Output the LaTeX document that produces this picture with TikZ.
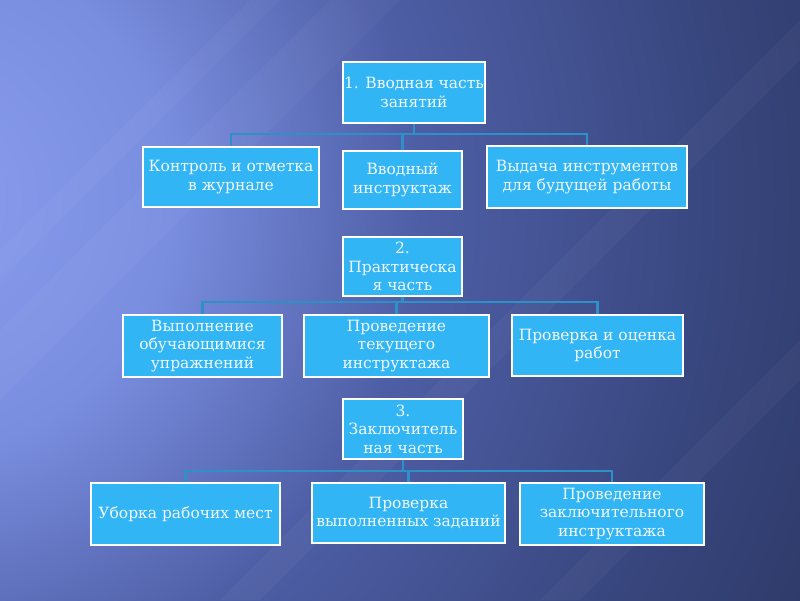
\documentclass[tikz,border=0pt]{standalone}
\usepackage{fontspec}
\setmainfont{DejaVu Serif}
\definecolor{bg0}{HTML}{8A9DF0}
\definecolor{bg1}{HTML}{7A8EE0}
\definecolor{bg2}{HTML}{4E5EA5}
\definecolor{bg3}{HTML}{38467E}
\definecolor{bg4}{HTML}{2E3966}
\definecolor{boxfill}{HTML}{32B5F5}
\definecolor{boxtext}{HTML}{F0F8FF}
\definecolor{linecol}{HTML}{2E90C8}
\pgfdeclareradialshading{bgshade}{\pgfpoint{0bp}{0bp}}{%
  color(0bp)=(bg0); color(6.25bp)=(bg1); color(12.5bp)=(bg2);
  color(20bp)=(bg3); color(25bp)=(bg4); color(50bp)=(bg4)}
\tikzset{
  box/.style={draw=white, line width=1.6pt, fill=boxfill, text=boxtext,
    align=center, inner sep=0.5pt, font=\fontsize{15.5}{18.5}\selectfont},
  conn/.style={draw=linecol, line width=2.4pt},
  streak/.style={fill=white, opacity=0.03}
}
\begin{document}
\begin{tikzpicture}[x=1pt,y=-1pt]
% background
\begin{scope}
  \clip (0,0) rectangle (800,600);
  \fill[bg4] (0,0) rectangle (800,600);
  \shade[shading=bgshade] (-80,200) circle (1000);
  \fill[streak] (0,330) -- (330,0) -- (400,0) -- (0,400) -- cycle;
  \fill[streak] (0,250) -- (250,0) -- (280,0) -- (0,280) -- cycle;
  \fill[streak] (220,600) -- (820,0) -- (860,0) -- (260,600) -- cycle;
  \fill[streak] (540,600) -- (800,340) -- (800,380) -- (580,600) -- cycle;
\end{scope}
\useasboundingbox (0,0) rectangle (800,600);

\coordinate (b1) at (0,134);
\coordinate (b2) at (0,302);
\coordinate (b3) at (0,471);

% group 1
\node[box, minimum width=142pt, minimum height=61pt] (p1) at (414,92.5) {1. Вводная часть\\занятий};
\node[box, minimum width=176pt, minimum height=60pt] (c11) at (231,177) {Контроль и отметка\\в журнале};
\node[box, minimum width=119pt, minimum height=58pt] (c12) at (402.5,180) {Вводный\\инструктаж};
\node[box, minimum width=200pt, minimum height=62pt] (c13) at (587,177) {Выдача инструментов\\для будущей работы};

% group 2
\node[box, minimum width=119pt, minimum height=59pt] (p2) at (402.5,266.5) {2.\\Практическа\\я часть};
\node[box, minimum width=159pt, minimum height=62pt] (c21) at (202.5,346) {Выполнение\\обучающимися\\упражнений};
\node[box, minimum width=185pt, minimum height=62pt] (c22) at (396.5,346) {Проведение\\текущего\\инструктажа};
\node[box, minimum width=171pt, minimum height=61pt] (c23) at (597.5,345.5) {Проверка и оценка\\работ};

% group 3
\node[box, minimum width=120pt, minimum height=60pt] (p3) at (403,429) {3.\\Заключитель\\ная часть};
\node[box, minimum width=189pt, minimum height=62pt] (c31) at (185.5,514) {Уборка рабочих мест};
\node[box, minimum width=193pt, minimum height=60pt] (c32) at (408.5,513) {Проверка\\выполненных заданий};
\node[box, minimum width=184pt, minimum height=62pt] (c33) at (612,514) {Проведение\\заключительного\\инструктажа};

% connectors
\foreach \c in {c11,c12,c13} \draw[conn] (p1.south) -- (p1.south |- b1) -| (\c.north);
\foreach \c in {c21,c22,c23} \draw[conn] (p2.south) -- (p2.south |- b2) -| (\c.north);
\foreach \c in {c31,c32,c33} \draw[conn] (p3.south) -- (p3.south |- b3) -| (\c.north);
\end{tikzpicture}
\end{document}
